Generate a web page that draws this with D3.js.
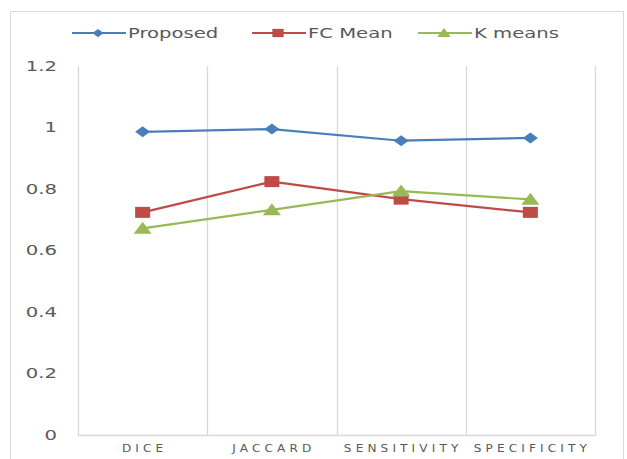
<!DOCTYPE html>
<html>
<head>
<meta charset="utf-8">
<script src="https://cdn.jsdelivr.net/npm/d3@7"></script>
<style>
  html, body { margin: 0; padding: 0; background: #fff; }
  svg text { font-family: "DejaVu Sans", Verdana, sans-serif; }
</style>
</head>
<body>
<svg id="chart" width="627" height="459"></svg>
<script>
// Metric categories along the x axis
const categories = ["DICE", "JACCARD", "SENSITIVITY", "SPECIFICITY"];
// Series values per metric
const proposed = [0.986, 0.995, 0.957, 0.966];
const fcMean   = [0.724, 0.824, 0.767, 0.724];
const kMeans   = [0.672, 0.732, 0.793, 0.766];
const yTicks   = [0, 0.2, 0.4, 0.6, 0.8, 1, 1.2];
const yTickLabels = ["0", "0.2", "0.4", "0.6", "0.8", "1", "1.2"];

const series = [
  { name: "Proposed", values: proposed, color: "#4a7ebb", symbol: "diamond" },
  { name: "FC Mean",  values: fcMean,   color: "#be4b48", symbol: "square" },
  { name: "K means",  values: kMeans,   color: "#98b954", symbol: "triangle" }
];

const svg = d3.select("#chart");
const plot = { left: 78, right: 595, top: 66, bottom: 435 };
const STRETCH = 1.4; // the whole chart is drawn horizontally widened

// widen a text element horizontally about its anchor
function widen(sel, factor) {
  sel.each(function () {
    const w = this.getComputedTextLength();
    d3.select(this).attr("textLength", w * factor).attr("lengthAdjust", "spacingAndGlyphs");
  });
}

// marker shapes, wider than tall
function markerPath(type, w, h) {
  const a = w / 2, b = h / 2;
  if (type === "diamond") return `M${-a},0 L0,${-b} L${a},0 L0,${b} Z`;
  if (type === "square") return `M${-a},${-b} H${a} V${b} H${-a} Z`;
  return `M${-a},${b * 0.9} L0,${-b * 1.1} L${a},${b * 0.9} Z`;
}
const markerSize = { diamond: [15, 11], square: [15, 11], triangle: [18, 12] };

// outer chart frame (no bottom edge visible)
svg.append("path")
  .attr("d", "M10.5,459 V11.5 H623.5 V459")
  .attr("fill", "none").attr("stroke", "#d9d9d9").attr("stroke-width", 1);

const x = d3.scaleBand().domain(categories).range([plot.left, plot.right]).padding(0);
const y = d3.scaleLinear().domain([0, 1.2]).range([plot.bottom, plot.top]);

// vertical gridlines between categories
svg.append("g").selectAll("line")
  .data(categories.slice(1))
  .join("line")
  .attr("x1", d => Math.round(x(d)) + 0.5).attr("x2", d => Math.round(x(d)) + 0.5)
  .attr("y1", plot.top).attr("y2", plot.bottom)
  .attr("stroke", "#d9d9d9").attr("stroke-width", 1.3);

// plot border left / bottom / right
svg.append("path")
  .attr("d", `M${plot.left + 0.5},${plot.top} V${plot.bottom + 0.5} H${plot.right + 0.5} V${plot.top}`)
  .attr("fill", "none").attr("stroke", "#d9d9d9").attr("stroke-width", 1.3);

// y axis labels
const yAxis = d3.axisLeft(y).tickValues(yTicks)
  .tickFormat((d, i) => yTickLabels[i]).tickSize(0).tickPadding(21);
const gy = svg.append("g").attr("transform", `translate(${plot.left},0)`).call(yAxis);
gy.select(".domain").remove();
gy.selectAll("text")
  .attr("fill", "#595959").style("font-size", "14px")
  .style("font-family", "'DejaVu Sans', Verdana, sans-serif");
widen(gy.selectAll("text"), STRETCH);

// x axis labels
const xAxis = d3.axisBottom(x).tickSize(0).tickPadding(10);
const gx = svg.append("g").attr("transform", `translate(0,${plot.bottom})`).call(xAxis);
gx.select(".domain").remove();
gx.selectAll("text")
  .attr("fill", "#595959").style("font-size", "10.5px")
  .style("letter-spacing", "3.6px")
  .style("font-family", "'DejaVu Sans', Verdana, sans-serif")
  .attr("dx", "2px");
widen(gx.selectAll("text"), 1.15);

const cx = d => x(d) + x.bandwidth() / 2;

const line = d3.line().x((d, i) => cx(categories[i])).y(d => y(d));

series.forEach(s => {
  const g = svg.append("g");
  g.append("path").datum(s.values)
    .attr("d", line).attr("fill", "none")
    .attr("stroke", s.color).attr("stroke-width", 2.2).attr("stroke-linejoin", "round");
  const [mw, mh] = markerSize[s.symbol];
  g.selectAll("path.mark").data(s.values).join("path")
    .attr("class", "mark")
    .attr("transform", (d, i) => `translate(${cx(categories[i])},${y(d)})`)
    .attr("d", markerPath(s.symbol, mw, mh))
    .attr("fill", s.color);
});

// legend
const legendX = [72, 252, 418];
const leg = svg.append("g");
series.forEach((s, i) => {
  const lx = legendX[i], ly = 33;
  leg.append("line").attr("x1", lx).attr("x2", lx + 54).attr("y1", ly).attr("y2", ly)
    .attr("stroke", s.color).attr("stroke-width", 2.2);
  const [mw, mh] = markerSize[s.symbol];
  leg.append("path")
    .attr("transform", `translate(${lx + 26},${ly})`)
    .attr("d", markerPath(s.symbol, mw * 0.75, mh * 0.75))
    .attr("fill", s.color);
  const t = leg.append("text").attr("x", lx + 56).attr("y", ly + 5)
    .attr("fill", "#595959").style("font-size", "14px")
    .text(s.name);
  widen(t, STRETCH);
});
</script>
</body>
</html>
